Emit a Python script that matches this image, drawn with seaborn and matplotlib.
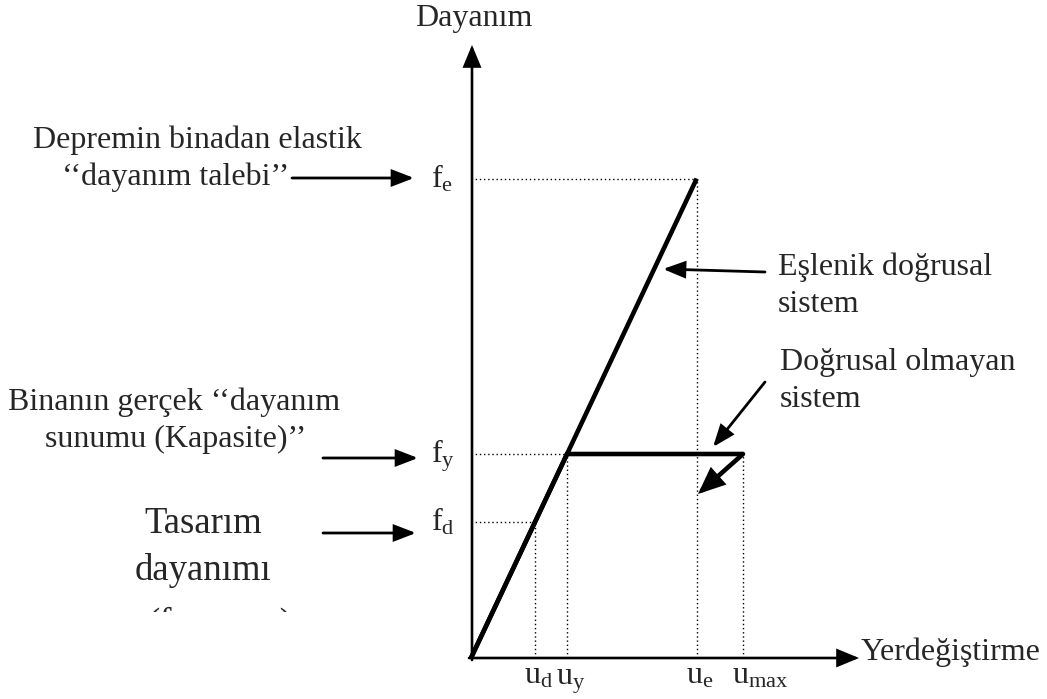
import matplotlib
matplotlib.use("Agg")
import matplotlib.pyplot as plt
import seaborn as sns
import pandas as pd
from matplotlib.transforms import Bbox, TransformedBbox

# Strength / displacement levels of the capacity diagram
u_d, u_y, u_e, u_max = 0.65, 0.97, 2.28, 2.75
f_d, f_y, f_e = 0.667, 1.0, 2.35

# Equivalent linear system and the elasto-plastic (nonlinear) system
elastic = pd.DataFrame({"u": [0.0, u_e], "f": [0.0, f_e]})
nonlinear = pd.DataFrame({"u": [0.0, u_y, u_max], "f": [0.0, f_y, f_y]})

u_labels = [r"$\mathrm{u}_{\mathrm{d}}$", r"$\mathrm{u}_{\mathrm{y}}$",
            r"$\mathrm{u}_{\mathrm{e}}$", r"$\mathrm{u}_{\mathrm{max}}$"]
f_labels = [r"$\mathrm{f}_{\mathrm{e}}$", r"$\mathrm{f}_{\mathrm{y}}$",
            r"$\mathrm{f}_{\mathrm{d}}$"]

sns.set_theme(style="white")
plt.rcParams["font.family"] = ["Liberation Serif", "DejaVu Serif"]
plt.rcParams["mathtext.fontset"] = "custom"
plt.rcParams["mathtext.rm"] = "Liberation Serif"
plt.rcParams["mathtext.it"] = "Liberation Serif:italic"
plt.rcParams["mathtext.bf"] = "Liberation Serif:bold"

W, H = 1047, 699
X0, Y0, SX, SY = 471, 658, 99.0, 204.0   # origin (px) and px per unit


def P(x, y):
    """Canvas pixel position -> data coordinates."""
    return ((x - X0) / SX, (Y0 - y) / SY)


fig = plt.figure(figsize=(W / 100, H / 100), dpi=100)
ax = fig.add_axes([0, 0, 1, 1])

# --- dotted reference lines -------------------------------------------------
dot = dict(color="black", lw=1.0, ls=(0, (1, 2)), zorder=1)
ax.plot([0, u_e], [f_e, f_e], **dot)
ax.plot([u_e, u_e], [0, f_e], **dot)
ax.plot([0, u_y], [f_y, f_y], **dot)
ax.plot([u_y, u_y], [0, f_y], **dot)
ax.plot([u_max, u_max], [0, f_y], **dot)
ax.plot([0, u_d], [f_d, f_d], **dot)
ax.plot([u_d, u_d], [0, f_d], **dot)

# --- capacity curves ----------------------------------------------------------
sns.lineplot(data=elastic, x="u", y="f", sort=False, color="black", lw=3.3,
             ax=ax, zorder=4, solid_capstyle="butt")
sns.lineplot(data=nonlinear, x="u", y="f", sort=False, color="black", lw=3.3,
             ax=ax, zorder=4, solid_joinstyle="miter", solid_capstyle="butt")

ax.set_xlim(-X0 / SX, (W - X0) / SX)
ax.set_ylim((Y0 - H) / SY, Y0 / SY)
ax.axis("off")


def arrow(start, end, lw=2.0, hl=0.65, hw=0.25, z=5):
    ax.annotate("", xy=P(*end), xytext=P(*start),
                arrowprops=dict(arrowstyle=f"-|>,head_length={hl},head_width={hw}",
                                mutation_scale=20, lw=lw, color="black",
                                shrinkA=0, shrinkB=0, joinstyle="miter"),
                zorder=z)


# axes
arrow((472, 660), (472, 45), lw=1.9, hl=0.65, hw=0.27)
arrow((469, 658), (859, 658), lw=1.9, hl=0.65, hw=0.27)

# pointer arrows from the labels
arrow((292, 178), (414, 178), lw=2.0)
arrow((323, 458), (418, 458), lw=2.0)
arrow((323, 533), (416, 533), lw=2.0)
arrow((765, 272), (663, 269), lw=2.0)
arrow((765, 382), (713, 447), lw=2.0)
# unloading branch of the nonlinear system
arrow((743, 454), (698, 494), lw=3.3, hl=0.7, hw=0.3)

# --- tick-like labels -------------------------------------------------------
FS = 23
for lab, lev in zip(f_labels, [f_e, f_y, f_d]):
    ax.text(*P(431, Y0 - lev * SY + 9), lab, fontsize=FS, ha="left",
            va="baseline")
for lab, pos in zip(u_labels, [u_d, u_y, u_e, u_max]):
    ax.text(*P(X0 + pos * SX - 11, 684), lab, fontsize=FS, ha="left",
            va="baseline")

# --- axis titles and annotations -------------------------------------------
ax.text(*P(474, 26), "Dayanım", fontsize=FS, ha="center", va="baseline")
ax.text(*P(861, 660), "Yerdeğiştirme", fontsize=FS, ha="left", va="baseline")

ax.text(*P(33, 148), "Depremin binadan elastik", fontsize=FS, ha="left",
        va="baseline")
ax.text(*P(62, 185), "\u2018\u2018dayanım talebi\u2019\u2019", fontsize=FS,
        ha="left", va="baseline")
ax.text(*P(8, 410), "Binanın gerçek \u2018\u2018dayanım", fontsize=FS,
        ha="left", va="baseline")
ax.text(*P(45, 447), "sunumu (Kapasite)\u2019\u2019", fontsize=FS, ha="left",
        va="baseline")

ax.text(*P(778, 275), "Eşlenik doğrusal", fontsize=FS, ha="left", va="baseline")
ax.text(*P(778, 312), "sistem", fontsize=FS, ha="left", va="baseline")
ax.text(*P(780, 370), "Doğrusal olmayan", fontsize=FS, ha="left", va="baseline")
ax.text(*P(780, 407), "sistem", fontsize=FS, ha="left", va="baseline")

FT = 26.5
ax.text(*P(203, 533), "Tasarım", fontsize=FT, ha="center", va="baseline")
ax.text(*P(203, 580), "dayanımı", fontsize=FT, ha="center", va="baseline")
third = ax.text(*P(220, 634), "(ftasarım)", fontsize=FT, ha="center",
                va="baseline", clip_on=True)
(cx0, cy0), (cx1, cy1) = P(100, 612), P(340, 590)
third.set_clip_box(TransformedBbox(Bbox([[cx0, cy0], [cx1, cy1]]), ax.transData))

fig.savefig("out.png", dpi=100)
